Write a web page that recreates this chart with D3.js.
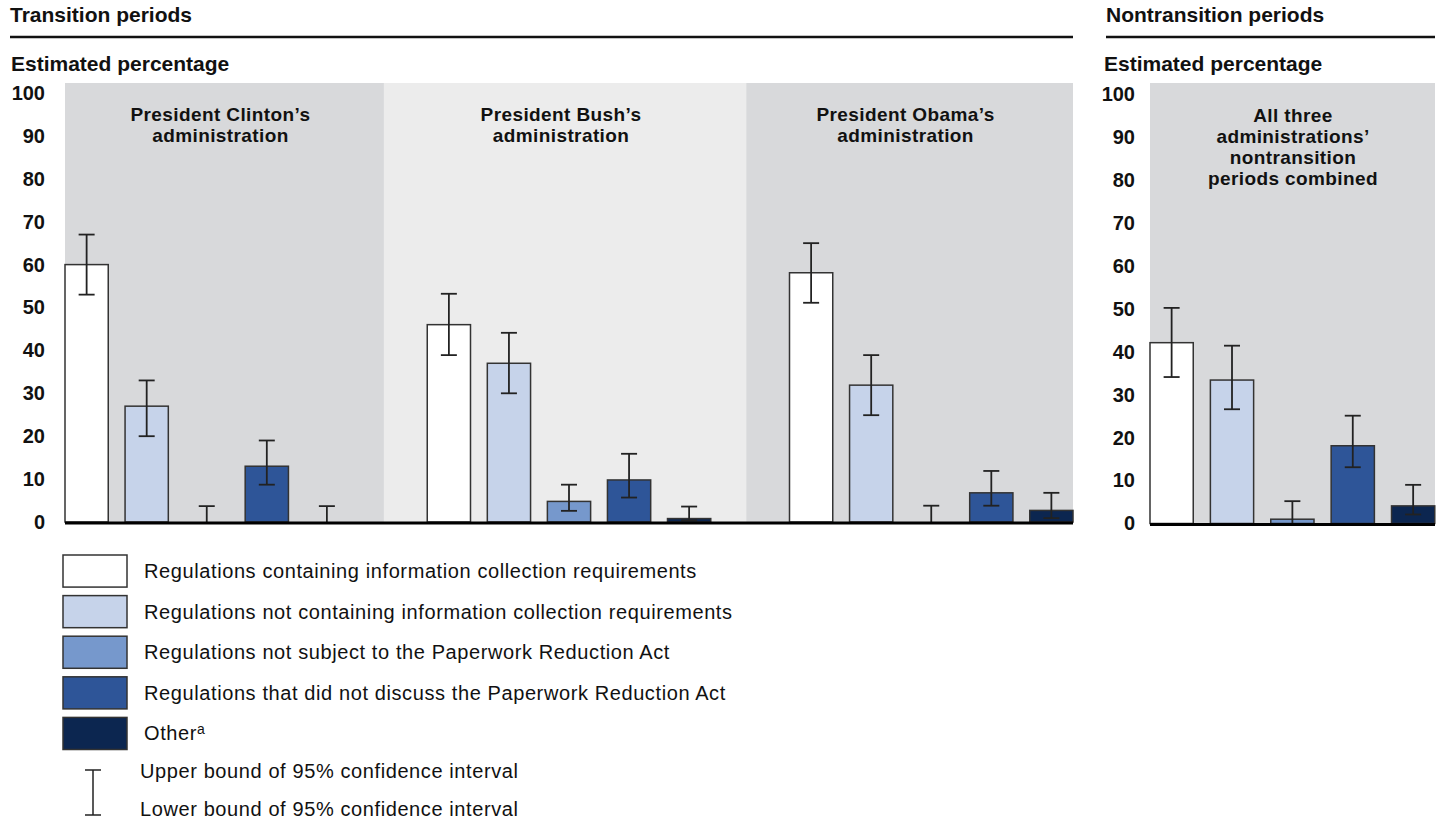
<!DOCTYPE html>
<html>
<head>
<meta charset="utf-8">
<script src="https://cdn.jsdelivr.net/npm/d3@7"></script>
<style>
  body { margin: 0; background: #fff; }
  svg text { font-family: "Liberation Sans", Arial, sans-serif; fill: #111; }
</style>
</head>
<body>
<div id="chart"></div>
<script>
// Chart sizing
const width = 1444;
const height = 824;

// Data
const periods = ["Clinton", "Bush", "Obama"];
const periodTitles = [["President Clinton\u2019s", "administration"],
                      ["President Bush\u2019s", "administration"],
                      ["President Obama\u2019s", "administration"]];
const categories = ["Regulations containing information collection requirements",
                    "Regulations not containing information collection requirements",
                    "Regulations not subject to the Paperwork Reduction Act",
                    "Regulations that did not discuss the Paperwork Reduction Act",
                    "Other"];
const colors = ["#ffffff", "#c6d3ea", "#7698cc", "#2e5598", "#0c2650"];
const yTicks = [0, 10, 20, 30, 40, 50, 60, 70, 80, 90, 100];

const clintonValues = [60, 27, 0, 13, 0];
const clintonLower  = [53, 20, 0, 8.7, 0];
const clintonUpper  = [67, 33, 3.7, 19, 3.7];

const bushValues = [46, 37, 4.8, 9.8, 0.8];
const bushLower  = [38.9, 30, 2.6, 5.7, 0.4];
const bushUpper  = [53.2, 44.1, 8.7, 15.9, 3.6];

const obamaValues = [58.1, 31.9, 0, 6.8, 2.7];
const obamaLower  = [51.1, 24.9, 0, 3.8, 0.9];
const obamaUpper  = [65, 38.9, 3.8, 11.9, 6.8];

const nonValues = [42.1, 33.4, 1.0, 18.1, 4.1];
const nonLower  = [34.1, 26.6, 0, 13.1, 2.1];
const nonUpper  = [50.2, 41.4, 5.2, 25.1, 9.0];

const transitionData = [
  {period: "Clinton", values: clintonValues, lower: clintonLower, upper: clintonUpper},
  {period: "Bush", values: bushValues, lower: bushLower, upper: bushUpper},
  {period: "Obama", values: obamaValues, lower: obamaLower, upper: obamaUpper}
];

let svg = d3.select("#chart").append("svg")
            .attr("width", width)
            .attr("height", height);

// Scales
const yLeft = d3.scaleLinear().domain([0, 100]).range([522, 93]);
const yRight = d3.scaleLinear().domain([0, 100]).range([523.5, 94]);

const outerX = d3.scaleBand().domain(periods).range([65, 1073]).paddingInner(0.2174).paddingOuter(0);
const innerX = d3.scaleBand().domain(d3.range(categories.length)).range([0, outerX.bandwidth()])
                 .paddingInner(0.28).paddingOuter(0);
const rightX = d3.scaleBand().domain(d3.range(categories.length)).range([1150, 1435])
                 .paddingInner(0.28).paddingOuter(0);

// Headers
function header(x1, x2, label) {
  svg.append("text").attr("x", x1).attr("y", 22)
     .style("font-size", "21px").style("font-weight", "bold").text(label);
  svg.append("line").attr("x1", x1).attr("x2", x2).attr("y1", 37).attr("y2", 37)
     .attr("stroke", "#111").attr("stroke-width", 2.5);
}
header(10, 1073, "Transition periods");
header(1106, 1435, "Nontransition periods");

svg.append("text").attr("x", 11).attr("y", 71)
   .style("font-size", "21px").style("font-weight", "bold").text("Estimated percentage");
svg.append("text").attr("x", 1104).attr("y", 71)
   .style("font-size", "21px").style("font-weight", "bold").text("Estimated percentage");

// Panel backgrounds
const gap = outerX.step() - outerX.bandwidth();
const panelEdges = periods.map(function(p, i) {
  let left = i === 0 ? outerX(p) : outerX(p) - gap * 0.55;
  let right = i === periods.length - 1 ? outerX(p) + outerX.bandwidth()
              : outerX(periods[i + 1]) - gap * 0.55;
  return {period: p, left: left, right: right, i: i};
});

svg.selectAll("rect.panel").data(panelEdges).enter()
   .append("rect").attr("class", "panel")
   .attr("x", d => d.left).attr("y", 83)
   .attr("width", d => d.right - d.left).attr("height", yLeft(0) - 83)
   .attr("fill", d => d.i === 1 ? "#ececec" : "#d8d9db");

svg.append("rect")
   .attr("x", 1150).attr("y", 83)
   .attr("width", 1435 - 1150).attr("height", yRight(0) - 83)
   .attr("fill", "#d8d9db");

// Panel titles
panelEdges.forEach(function(d) {
  periodTitles[d.i].forEach(function(line, j) {
    svg.append("text")
       .attr("x", (d.left + d.right) / 2 - 4).attr("y", 121 + j * 21)
       .attr("text-anchor", "middle")
       .style("font-size", "19px").style("font-weight", "bold")
       .style("letter-spacing", "0.4px")
       .text(line);
  });
});

["All three", "administrations\u2019", "nontransition", "periods combined"].forEach(function(line, j) {
  svg.append("text")
     .attr("x", 1293).attr("y", 122 + j * 21)
     .attr("text-anchor", "middle")
     .style("font-size", "19px").style("font-weight", "bold")
     .style("letter-spacing", "0.4px")
     .text(line);
});

// Y axes (labels only)
function yAxis(scale, x, pad) {
  let g = svg.append("g")
     .attr("transform", "translate(" + x + ",0)")
     .call(d3.axisLeft(scale).tickValues(yTicks).tickSize(0).tickPadding(pad));
  g.select(".domain").remove();
  g.selectAll("text")
   .style("font-size", "20px").style("font-weight", "bold")
   .style("font-family", "'Liberation Sans', Arial, sans-serif")
   .attr("fill", "#111");
}
yAxis(yLeft, 65, 20);
yAxis(yRight, 1150, 15);

// Bars and error bars
function drawGroup(values, lower, upper, xPos, y) {
  let rows = values.map(function(v, k) {
    return {k: k, v: v, lo: lower[k], hi: upper[k]};
  });
  let w = innerX.bandwidth();

  svg.append("g").selectAll("rect")
     .data(rows.filter(d => d.v > 0))
     .enter().append("rect")
     .attr("x", d => xPos(d.k))
     .attr("y", d => y(d.v))
     .attr("width", w)
     .attr("height", d => y(0) - y(d.v))
     .attr("fill", d => colors[d.k])
     .attr("stroke", "#333")
     .attr("stroke-width", 1.5);

  let err = svg.append("g").selectAll("g")
     .data(rows).enter().append("g")
     .attr("stroke", "#222").attr("stroke-width", 1.8);
  err.append("line")
     .attr("x1", d => xPos(d.k) + w / 2).attr("x2", d => xPos(d.k) + w / 2)
     .attr("y1", d => y(d.hi)).attr("y2", d => y(d.lo));
  err.append("line")
     .attr("x1", d => xPos(d.k) + w / 2 - 8).attr("x2", d => xPos(d.k) + w / 2 + 8)
     .attr("y1", d => y(d.hi)).attr("y2", d => y(d.hi));
  err.filter(d => d.lo > 0).append("line")
     .attr("x1", d => xPos(d.k) + w / 2 - 8).attr("x2", d => xPos(d.k) + w / 2 + 8)
     .attr("y1", d => y(d.lo)).attr("y2", d => y(d.lo));
}

transitionData.forEach(function(d) {
  drawGroup(d.values, d.lower, d.upper, k => outerX(d.period) + innerX(k), yLeft);
});
drawGroup(nonValues, nonLower, nonUpper, k => rightX(k), yRight);

// Baselines
svg.append("line").attr("x1", 65).attr("x2", 1073)
   .attr("y1", yLeft(0) + 1).attr("y2", yLeft(0) + 1)
   .attr("stroke", "#000").attr("stroke-width", 3);
svg.append("line").attr("x1", 1150).attr("x2", 1435)
   .attr("y1", yRight(0) + 1).attr("y2", yRight(0) + 1)
   .attr("stroke", "#000").attr("stroke-width", 3);

// Legend
const legendY = d3.scaleBand().domain(d3.range(categories.length)).range([555, 749.5]).paddingInner(0.21);
let legend = svg.append("g").selectAll("g")
   .data(categories).enter().append("g");
legend.append("rect")
   .attr("x", 63).attr("y", (d, k) => legendY(k))
   .attr("width", 64).attr("height", legendY.bandwidth())
   .attr("fill", (d, k) => colors[k])
   .attr("stroke", "#333").attr("stroke-width", 1.5);
let legendText = legend.append("text")
   .attr("x", 144).attr("y", (d, k) => legendY(k) + legendY.bandwidth() / 2 + 7)
   .style("font-size", "20px").style("letter-spacing", "0.6px")
   .text(d => d);
legendText.filter((d, k) => k === categories.length - 1)
   .append("tspan").attr("dy", -6).style("font-size", "14px").text("a");

// Confidence interval legend
let ci = svg.append("g").attr("stroke", "#222").attr("stroke-width", 1.5);
ci.append("line").attr("x1", 93).attr("x2", 93).attr("y1", 770).attr("y2", 815);
ci.append("line").attr("x1", 85).attr("x2", 101).attr("y1", 770).attr("y2", 770);
ci.append("line").attr("x1", 85).attr("x2", 101).attr("y1", 815).attr("y2", 815);
svg.append("text").attr("x", 140).attr("y", 778).style("font-size", "20px").style("letter-spacing", "0.6px")
   .text("Upper bound of 95% confidence interval");
svg.append("text").attr("x", 140).attr("y", 816).style("font-size", "20px").style("letter-spacing", "0.6px")
   .text("Lower bound of 95% confidence interval");
</script>
</body>
</html>
